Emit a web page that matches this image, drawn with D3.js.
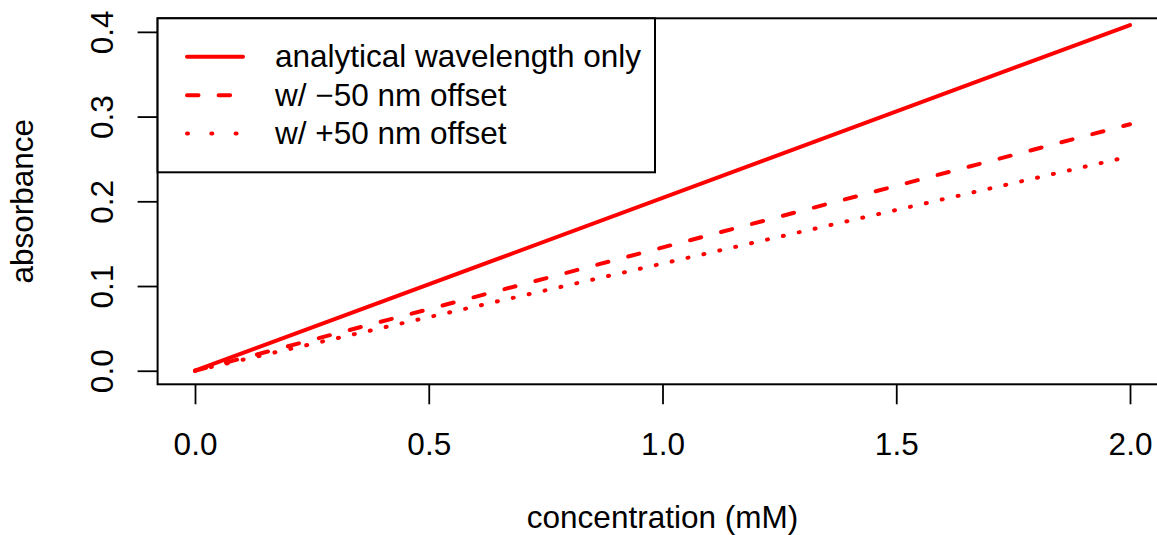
<!DOCTYPE html>
<html>
<head>
<meta charset="utf-8">
<script src="https://cdn.jsdelivr.net/npm/d3@7"></script>
<style>
  html, body { margin: 0; padding: 0; background: #ffffff; }
  svg { display: block; }
  text { font-family: "Liberation Sans", Arial, Helvetica, sans-serif; fill: #000; }
</style>
</head>
<body>
<svg id="chart" width="1157" height="535"></svg>
<script>
// Calibration lines: absorbance vs concentration
const concentration = [0, 2];
const absAnalytical = [0, 0.408];
const absMinus50 = [0, 0.291];
const absPlus50 = [0, 0.253];

const xTicks = [0, 0.5, 1, 1.5, 2];
const yTicks = [0, 0.1, 0.2, 0.3, 0.4];

const seriesNames = ["analytical wavelength only", "w/ \u221250 nm offset", "w/ +50 nm offset"];

const W = 1157, H = 535;
const fontSize = 31.5;
const red = "#ff0000";

const box = { left: 157.6, right: 1167.4, top: 18.3, bottom: 384.3 };

// axis ranges padded by 4% on each side
const x = d3.scaleLinear().domain([-0.08, 2.08]).range([box.left, box.right]);
const y = d3.scaleLinear().domain([-0.016, 0.416]).range([box.bottom, box.top]);

const svg = d3.select("#chart");
svg.append("rect").attr("width", W).attr("height", H).attr("fill", "#fff");

// data lines
const styles = [
  { values: absAnalytical, dash: null, legendDash: null },
  { values: absMinus50, dash: "11.5,20.5", legendDash: "11.5,20.1" },
  { values: absPlus50, dash: "1,15.3", legendDash: "1,23.3" }
];

const line = d3.line().x(d => x(d[0])).y(d => y(d[1]));

styles.forEach(s => {
  const pts = concentration.map((c, i) => [c, s.values[i]]);
  svg.append("path")
    .attr("d", line(pts))
    .attr("fill", "none")
    .attr("stroke", red)
    .attr("stroke-width", 4)
    .attr("stroke-linecap", "round")
    .attr("stroke-dasharray", s.dash);
});

// x axis
const xAxis = svg.append("g")
  .attr("transform", `translate(0,${box.bottom})`)
  .call(d3.axisBottom(x).tickValues(xTicks).tickFormat(d3.format(".1f")).tickSize(20).tickSizeOuter(0));
xAxis.select(".domain").remove();
xAxis.selectAll(".tick line").attr("stroke", "#000").attr("stroke-width", 1.8);
xAxis.selectAll(".tick text")
  .attr("y", 71).attr("dy", 0)
  .style("font-size", fontSize + "px")
  .style("font-family", '"Liberation Sans", Arial, sans-serif')
  .attr("fill", "#000");

// y axis
const yAxis = svg.append("g")
  .attr("transform", `translate(${box.left},0)`)
  .call(d3.axisLeft(y).tickValues(yTicks).tickFormat(d3.format(".1f")).tickSize(20).tickSizeOuter(0));
yAxis.select(".domain").remove();
yAxis.selectAll(".tick line").attr("stroke", "#000").attr("stroke-width", 1.8);
yAxis.selectAll(".tick text")
  .attr("x", 0).attr("y", -45).attr("dy", 0)
  .attr("transform", "rotate(-90)")
  .attr("text-anchor", "middle")
  .style("font-size", fontSize + "px")
  .style("font-family", '"Liberation Sans", Arial, sans-serif')
  .attr("fill", "#000");

// plot frame
svg.append("rect")
  .attr("x", box.left).attr("y", box.top)
  .attr("width", box.right - box.left).attr("height", box.bottom - box.top)
  .attr("fill", "none").attr("stroke", "#000").attr("stroke-width", 2);

// axis titles
svg.append("text")
  .attr("x", (box.left + box.right) / 2).attr("y", 528)
  .attr("text-anchor", "middle")
  .style("font-size", fontSize + "px")
  .text("concentration (mM)");

svg.append("text")
  .attr("transform", `translate(33,${(box.top + box.bottom) / 2}) rotate(-90)`)
  .attr("text-anchor", "middle")
  .style("font-size", fontSize + "px")
  .text("absorbance");

// legend
const legend = svg.append("g");
legend.append("rect")
  .attr("x", box.left).attr("y", box.top)
  .attr("width", 655 - box.left).attr("height", 172.3 - box.top)
  .attr("fill", "#fff").attr("stroke", "#000").attr("stroke-width", 2);

const rowY = [56.7, 95.2, 133.5];
styles.forEach((s, i) => {
  legend.append("line")
    .attr("x1", 187).attr("x2", 243)
    .attr("y1", rowY[i]).attr("y2", rowY[i])
    .attr("stroke", red).attr("stroke-width", 4)
    .attr("stroke-linecap", "round")
    .attr("stroke-dasharray", s.legendDash);
  legend.append("text")
    .attr("x", 275).attr("y", rowY[i]).attr("dy", "0.33em")
    .style("font-size", fontSize + "px")
    .text(seriesNames[i]);
});
</script>
</body>
</html>
